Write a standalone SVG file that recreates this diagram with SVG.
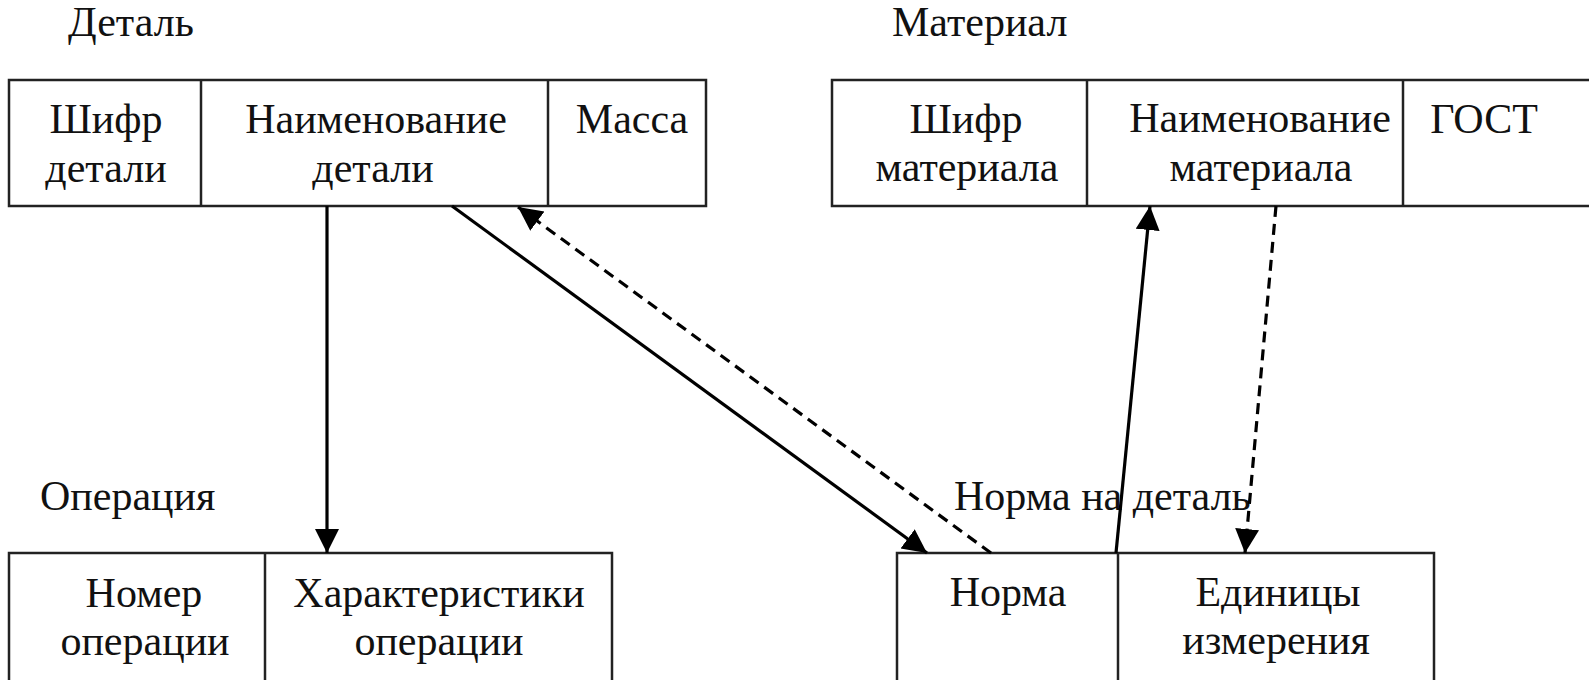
<svg xmlns="http://www.w3.org/2000/svg" width="1589" height="680" viewBox="0 0 1589 680">
<defs>
<style>
text{font-family:'Liberation Serif',serif;font-size:42px;fill:#111}
.c{text-anchor:middle}
.box{fill:#fff;stroke:#222;stroke-width:2.5}
.div{stroke:#222;stroke-width:2.5}
.solid{stroke:#000;stroke-width:3.2;fill:none}
.dash{stroke:#000;stroke-width:3.2;fill:none;stroke-dasharray:11 7}
</style>
<marker id="ah" markerUnits="userSpaceOnUse" markerWidth="26" markerHeight="26" refX="24" refY="12" orient="auto">
<path d="M0,0 L24,12 L0,24 z" fill="#000"/>
</marker>
</defs>
<rect width="1589" height="680" fill="#fff"/>

<g font-family="Liberation Serif, serif">
<g id="detail">
<text x="68" y="36">Деталь</text>
<rect class="box" x="9" y="80" width="697" height="126"/>
<line class="div" x1="201" y1="80" x2="201" y2="206"/>
<line class="div" x1="548" y1="80" x2="548" y2="206"/>
<text class="c" x="106" y="133">Шифр</text>
<text class="c" x="106" y="182">детали</text>
<text class="c" x="376" y="133">Наименование</text>
<text class="c" x="373" y="182">детали</text>
<text class="c" x="632" y="133">Масса</text>
</g>

<g id="material">
<text x="892" y="36">Материал</text>
<rect class="box" x="832" y="80" width="780" height="126"/>
<line class="div" x1="1087" y1="80" x2="1087" y2="206"/>
<line class="div" x1="1403" y1="80" x2="1403" y2="206"/>
<text class="c" x="966" y="133">Шифр</text>
<text class="c" x="967" y="181">материала</text>
<text class="c" x="1260" y="132">Наименование</text>
<text class="c" x="1261" y="181">материала</text>
<text class="c" x="1484" y="133">ГОСТ</text>
</g>

<g id="operation">
<text x="40" y="510">Операция</text>
<rect class="box" x="9" y="553" width="603" height="130"/>
<line class="div" x1="265" y1="553" x2="265" y2="683"/>
<text class="c" x="144" y="607">Номер</text>
<text class="c" x="145" y="655">операции</text>
<text class="c" x="439" y="607">Характеристики</text>
<text class="c" x="439" y="655">операции</text>
</g>

<g id="norm">
<text x="954" y="510">Норма на деталь</text>
<rect class="box" x="897" y="553" width="537" height="130"/>
<line class="div" x1="1118" y1="553" x2="1118" y2="683"/>
<text class="c" x="1008" y="606">Норма</text>
<text class="c" x="1278" y="606">Единицы</text>
<text class="c" x="1276" y="654">измерения</text>
</g>
</g>

<g id="connectors">
<line class="solid" x1="327" y1="206" x2="327" y2="553" marker-end="url(#ah)"/>
<line class="solid" x1="452" y1="206" x2="927" y2="553" marker-end="url(#ah)"/>
<line class="dash" x1="991" y1="553" x2="518" y2="207" marker-end="url(#ah)"/>
<line class="solid" x1="1116" y1="553" x2="1150" y2="206" marker-end="url(#ah)"/>
<line class="dash" x1="1276" y1="206" x2="1245" y2="553" marker-end="url(#ah)"/>
</g>
</svg>
